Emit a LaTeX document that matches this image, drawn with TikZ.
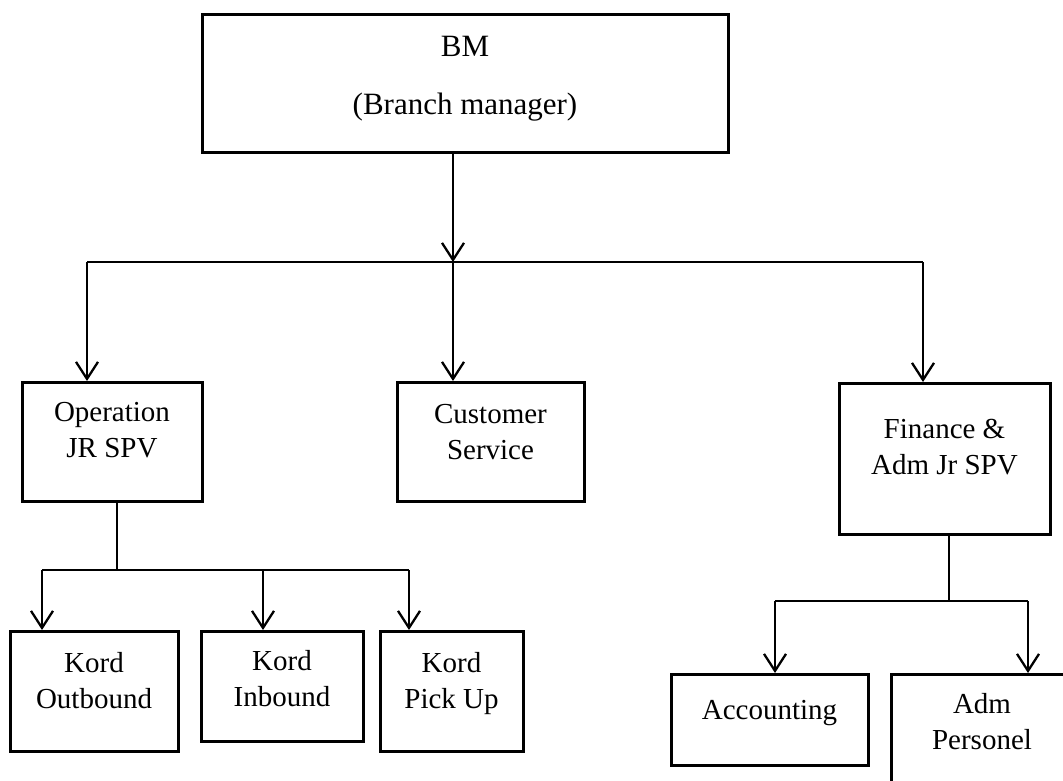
\documentclass[tikz,border=0pt]{standalone}
\usepackage{fontspec}
\setmainfont{Liberation Serif}
\usetikzlibrary{arrows.meta}

\begin{document}
\begin{tikzpicture}[x=1pt, y=-1pt,
            unit/.style={draw, line width=3pt, rectangle, inner sep=0pt, align=center,
            anchor=north, font=\fontsize{29}{36}\selectfont},
            link/.style={line width=2.3pt, -{Straight Barb[length=17pt,width=22pt]}},
            bus/.style={line width=1.4pt}]
        \useasboundingbox (0,0) rectangle (1063,780);
        \clip (0,0) rectangle (1063,780);

        % boxes
        \node[unit, minimum width=526pt, text height=100pt, text depth=38pt,
            font=\fontsize{31}{58}\selectfont] (bm) at (465,13) {BM\\(Branch manager)};
        \node[unit, minimum width=180pt, text height=75pt, text depth=44pt] (ops) at (112,381) {Operation\\JR SPV};
        \node[unit, minimum width=187pt, text height=77pt, text depth=42pt] (cs) at (490.5,381) {Customer\\Service};
        \node[unit, minimum width=211pt, text height=91pt, text depth=60pt] (fin) at (944.5,382) {Finance \&\\Adm Jr SPV};
        \node[unit, minimum width=168pt, text height=77pt, text depth=43pt] (outb) at (94,630) {Kord\\Outbound};
        \node[unit, minimum width=162pt, text height=75pt, text depth=35pt] (inb) at (282,630) {Kord\\Inbound};
        \node[unit, minimum width=143pt, text height=77pt, text depth=43pt] (pick) at (451.5,630) {Kord\\Pick Up};
        \node[unit, minimum width=197pt, text height=45pt, text depth=46pt] (acc) at (769.5,673) {Accounting};
        \node[unit, minimum width=182pt, text height=75pt, text depth=45pt] (pers) at (982,673) {Adm\\Personel};

        % bus points
        \coordinate (top-mid) at (453,262);
        \coordinate (top-l) at (87,262);
        \coordinate (top-r) at (923,262);
        \coordinate (ops-mid) at (117,570);
        \coordinate (ops-l) at (42,570);
        \coordinate (ops-c) at (263,570);
        \coordinate (ops-r) at (409,570);
        \coordinate (fin-mid) at (949,601);
        \coordinate (fin-l) at (775,601);
        \coordinate (fin-r) at (1028,601);

        \draw[link] (top-mid |- bm.south) -- (top-mid);
        \draw[bus] (top-l) -- (top-r);
        \draw[link] (top-l) -- (top-l |- ops.north);
        \draw[link] (top-mid) -- (top-mid |- cs.north);
        \draw[link] (top-r) -- (top-r |- fin.north);

        \draw[bus] (ops-mid |- ops.south) -- (ops-mid);
        \draw[bus] (ops-l) -- (ops-r);
        \draw[link] (ops-l) -- (ops-l |- outb.north);
        \draw[link] (ops-c) -- (ops-c |- inb.north);
        \draw[link] (ops-r) -- (ops-r |- pick.north);

        \draw[bus] (fin-mid |- fin.south) -- (fin-mid);
        \draw[bus] (fin-l) -- (fin-r);
        \draw[link] (fin-l) -- (fin-l |- acc.north);
        \draw[link] (fin-r) -- (fin-r |- pers.north);
    \end{tikzpicture}
\end{document}
